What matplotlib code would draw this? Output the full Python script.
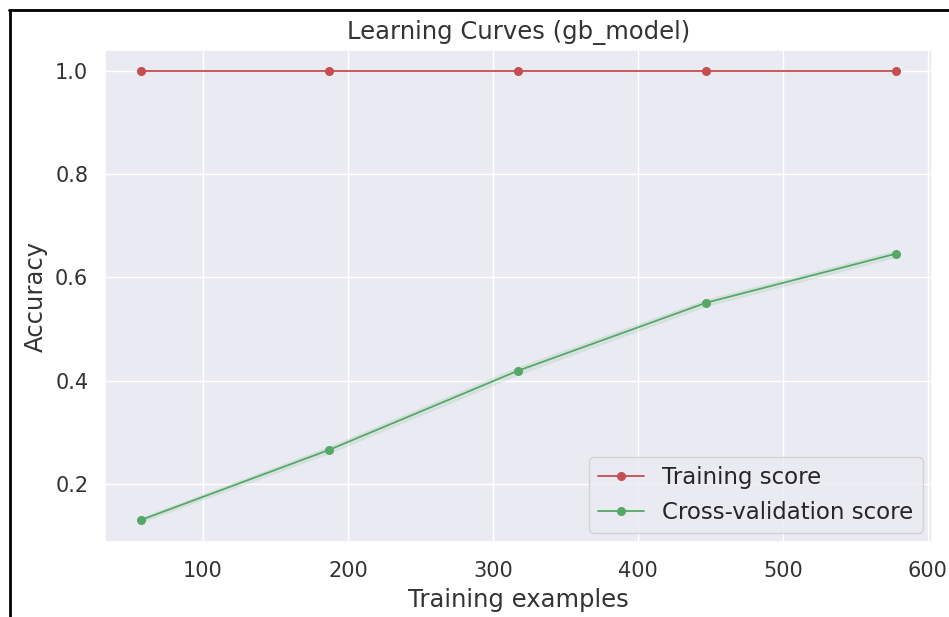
import numpy as np
import matplotlib
matplotlib.use("Agg")
import matplotlib.pyplot as plt
import seaborn as sns
from matplotlib.lines import Line2D

sns.set_theme(style="darkgrid", color_codes=True)
plt.rcParams['font.family'] = ['DejaVu Sans']

# - # data
train_sizes = [57, 187, 317, 447, 578]
train_mean = [1.0, 1.0, 1.0, 1.0, 1.0]
train_std = [0.0, 0.0, 0.0, 0.0, 0.0]
test_mean = [0.130, 0.266, 0.419, 0.551, 0.646]
test_std = [0.004, 0.006, 0.007, 0.006, 0.006]

train_mean = np.array(train_mean)
train_std = np.array(train_std)
test_mean = np.array(test_mean)
test_std = np.array(test_std)

txt = '#333333'

fig = plt.figure(figsize=(9.49, 6.17), dpi=100)
ax = fig.add_axes([0.1106, 0.1216, 0.8714, 0.7974])

ax.fill_between(train_sizes, train_mean - train_std, train_mean + train_std, alpha=0.1, color="r")
ax.fill_between(train_sizes, test_mean - test_std, test_mean + test_std, alpha=0.1, color="g")
ax.plot(train_sizes, train_mean, 'o-', color="r", label="Training score", markersize=5.5, linewidth=1.3)
ax.plot(train_sizes, test_mean, 'o-', color="g", label="Cross-validation score", markersize=5.5, linewidth=1.3)

ax.set_xlim(32.4, 602.8)
ax.set_ylim(0.0876, 1.0407)
ax.set_xticks([100, 200, 300, 400, 500, 600])
ax.set_yticks([0.2, 0.4, 0.6, 0.8, 1.0])
ax.tick_params(labelsize=15, colors=txt)
ax.tick_params(axis='x', pad=8)
ax.tick_params(axis='y', pad=6)

ax.set_title("Learning Curves (gb_model)", fontsize=17.5, color=txt, pad=8)
ax.set_xlabel("Training examples", fontsize=17.5, color=txt, labelpad=5)
ax.set_ylabel("Accuracy", fontsize=17.5, color=txt, labelpad=5)
ax.legend(loc="lower right", fontsize=16.5, borderaxespad=0.4)

# black frame around the screenshot
fig.add_artist(Line2D([9 / 949, 1.0], [1 - 10 / 617, 1 - 10 / 617], color='black', linewidth=2, transform=fig.transFigure))
fig.add_artist(Line2D([10 / 949, 10 / 949], [0, 1 - 10 / 617], color='black', linewidth=2, transform=fig.transFigure))

fig.savefig("out.png", dpi=100)
